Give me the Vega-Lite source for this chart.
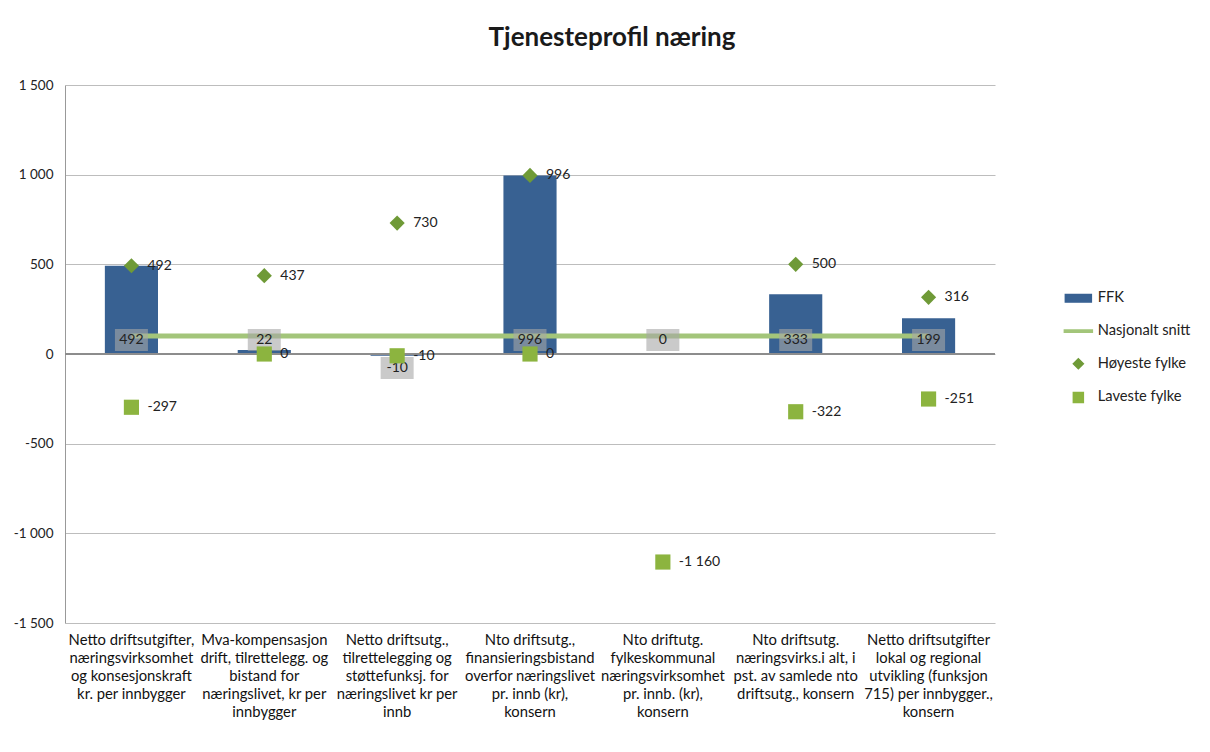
{
  "$schema": "https://vega.github.io/schema/vega-lite/v6.json",
  "width": 930,
  "height": 538,
  "autosize": "none",
  "padding": {"left": 65, "top": 85, "right": 215, "bottom": 129},
  "background": "white",
  "title": {"text": "Tjenesteprofil næring", "fontSize": 26, "fontWeight": "bold", "font": "Lato", "anchor": "middle", "dx": 82, "offset": 27, "color": "#1a1a1a"},
  "config": {
    "locale": {"number": {"decimal": ",", "thousands": " ", "grouping": [3], "currency": ["", ""], "minus": "-"}},
    "font": "Lato",
    "view": {"stroke": null}
  },
  "data": {"values": [
    {"kategori": "Netto driftsutgifter,|næringsvirksomhet|og konsesjonskraft|kr. per innbygger", "serie": "FFK", "verdi": 492},
    {"kategori": "Mva-kompensasjon|drift, tilrettelegg. og|bistand for|næringslivet, kr per|innbygger", "serie": "FFK", "verdi": 22},
    {"kategori": "Netto driftsutg.,|tilrettelegging og|støttefunksj. for|næringslivet kr per|innb", "serie": "FFK", "verdi": -10},
    {"kategori": "Nto driftsutg.,|finansieringsbistand|overfor næringslivet|pr. innb (kr),|konsern", "serie": "FFK", "verdi": 996},
    {"kategori": "Nto driftutg.|fylkeskommunal|næringsvirksomhet|pr. innb. (kr),|konsern", "serie": "FFK", "verdi": 0},
    {"kategori": "Nto driftsutg.|næringsvirks.i alt, i|pst. av samlede nto|driftsutg., konsern", "serie": "FFK", "verdi": 333},
    {"kategori": "Netto driftsutgifter|lokal og regional|utvikling (funksjon|715) per innbygger.,|konsern", "serie": "FFK", "verdi": 199},
    {"kategori": "Netto driftsutgifter,|næringsvirksomhet|og konsesjonskraft|kr. per innbygger", "serie": "Nasjonalt snitt", "verdi": 100},
    {"kategori": "Mva-kompensasjon|drift, tilrettelegg. og|bistand for|næringslivet, kr per|innbygger", "serie": "Nasjonalt snitt", "verdi": 100},
    {"kategori": "Netto driftsutg.,|tilrettelegging og|støttefunksj. for|næringslivet kr per|innb", "serie": "Nasjonalt snitt", "verdi": 100},
    {"kategori": "Nto driftsutg.,|finansieringsbistand|overfor næringslivet|pr. innb (kr),|konsern", "serie": "Nasjonalt snitt", "verdi": 100},
    {"kategori": "Nto driftutg.|fylkeskommunal|næringsvirksomhet|pr. innb. (kr),|konsern", "serie": "Nasjonalt snitt", "verdi": 100},
    {"kategori": "Nto driftsutg.|næringsvirks.i alt, i|pst. av samlede nto|driftsutg., konsern", "serie": "Nasjonalt snitt", "verdi": 100},
    {"kategori": "Netto driftsutgifter|lokal og regional|utvikling (funksjon|715) per innbygger.,|konsern", "serie": "Nasjonalt snitt", "verdi": 100},
    {"kategori": "Netto driftsutgifter,|næringsvirksomhet|og konsesjonskraft|kr. per innbygger", "serie": "Høyeste fylke", "verdi": 492},
    {"kategori": "Mva-kompensasjon|drift, tilrettelegg. og|bistand for|næringslivet, kr per|innbygger", "serie": "Høyeste fylke", "verdi": 437},
    {"kategori": "Netto driftsutg.,|tilrettelegging og|støttefunksj. for|næringslivet kr per|innb", "serie": "Høyeste fylke", "verdi": 730},
    {"kategori": "Nto driftsutg.,|finansieringsbistand|overfor næringslivet|pr. innb (kr),|konsern", "serie": "Høyeste fylke", "verdi": 996},
    {"kategori": "Nto driftsutg.|næringsvirks.i alt, i|pst. av samlede nto|driftsutg., konsern", "serie": "Høyeste fylke", "verdi": 500},
    {"kategori": "Netto driftsutgifter|lokal og regional|utvikling (funksjon|715) per innbygger.,|konsern", "serie": "Høyeste fylke", "verdi": 316},
    {"kategori": "Netto driftsutgifter,|næringsvirksomhet|og konsesjonskraft|kr. per innbygger", "serie": "Laveste fylke", "verdi": -297},
    {"kategori": "Mva-kompensasjon|drift, tilrettelegg. og|bistand for|næringslivet, kr per|innbygger", "serie": "Laveste fylke", "verdi": 0},
    {"kategori": "Netto driftsutg.,|tilrettelegging og|støttefunksj. for|næringslivet kr per|innb", "serie": "Laveste fylke", "verdi": -10},
    {"kategori": "Nto driftsutg.,|finansieringsbistand|overfor næringslivet|pr. innb (kr),|konsern", "serie": "Laveste fylke", "verdi": 0},
    {"kategori": "Nto driftutg.|fylkeskommunal|næringsvirksomhet|pr. innb. (kr),|konsern", "serie": "Laveste fylke", "verdi": -1160},
    {"kategori": "Nto driftsutg.|næringsvirks.i alt, i|pst. av samlede nto|driftsutg., konsern", "serie": "Laveste fylke", "verdi": -322},
    {"kategori": "Netto driftsutgifter|lokal og regional|utvikling (funksjon|715) per innbygger.,|konsern", "serie": "Laveste fylke", "verdi": -251}
  ]},
  "encoding": {
    "x": {
      "field": "kategori", "type": "nominal", "sort": null, "title": null,
      "scale": {"paddingInner": 0.6, "paddingOuter": 0.3},
      "axis": {"labelAngle": 0, "labelExpr": "split(datum.label, '|')", "labelFontSize": 14.8, "labelLineHeight": 18, "labelPadding": 9, "labelLimit": 0, "labelOverlap": false, "labelColor": "#111", "labelBaseline": "top", "ticks": false, "domain": false, "grid": false}
    },
    "y": {
      "field": "verdi", "type": "quantitative", "title": null,
      "scale": {"domain": [-1500, 1500], "nice": false, "zero": false},
      "axis": {"values": [-1500, -1000, -500, 0, 500, 1000, 1500], "format": ",d", "labelFontSize": 13.5, "labelColor": "#222", "labelPadding": 12, "ticks": false, "domain": true, "domainColor": "#999", "gridColor": "#bdbdbd", "grid": true}
    }
  },
  "layer": [
    {
      "transform": [{"filter": "datum.serie === 'FFK'"}],
      "mark": {"type": "bar"},
      "encoding": {
        "color": {"field": "serie", "type": "nominal", "title": null,
          "scale": {"domain": ["FFK", "Nasjonalt snitt", "Høyeste fylke", "Laveste fylke"], "range": ["#386192", "#a3c57a", "#6f9a37", "#8cb43f"]},
          "legend": {"orient": "none", "legendX": 1006, "legendY": 206, "labelFontSize": 14.7, "labelColor": "#222", "rowPadding": 16.7, "labelOffset": 12, "symbolSize": 100, "padding": 0,
            "encode": {"symbols": {"update": {"fill": {"scale": "color", "field": "value"}, "stroke": {"value": "transparent"}, "opacity": {"value": 1}}}}}
        }
      }
    },
    {
      "mark": {"type": "rule", "color": "#8c8c8c", "strokeWidth": 1},
      "encoding": {"y": {"datum": 0}, "x": null}
    },
    {
      "transform": [{"filter": "datum.serie === 'Nasjonalt snitt'"}],
      "mark": {"type": "line", "strokeWidth": 5},
      "encoding": {"color": {"field": "serie", "type": "nominal"}}
    },
    {
      "transform": [{"filter": "datum.serie === 'FFK' && datum.verdi >= 0"}],
      "mark": {"type": "point", "shape": "M-1.65,-1.1H1.65V1.1H-1.65Z", "filled": true, "size": 400, "color": "#a6a6a6", "opacity": 0.6, "yOffset": -14},
      "encoding": {"y": {"datum": 0}}
    },
    {
      "transform": [{"filter": "datum.serie === 'FFK' && datum.verdi < 0"}],
      "mark": {"type": "point", "shape": "M-1.65,-1.1H1.65V1.1H-1.65Z", "filled": true, "size": 400, "color": "#a6a6a6", "opacity": 0.6, "yOffset": 14},
      "encoding": {"y": {"datum": 0}}
    },
    {
      "transform": [{"filter": "datum.serie === 'FFK' && datum.verdi >= 0"}],
      "mark": {"type": "text", "fontSize": 14, "color": "#222", "baseline": "middle", "yOffset": -14},
      "encoding": {"y": {"datum": 0}, "text": {"field": "verdi", "type": "quantitative", "format": ",d"}}
    },
    {
      "transform": [{"filter": "datum.serie === 'FFK' && datum.verdi < 0"}],
      "mark": {"type": "text", "fontSize": 14, "color": "#222", "baseline": "middle", "yOffset": 14},
      "encoding": {"y": {"datum": 0}, "text": {"field": "verdi", "type": "quantitative", "format": ",d"}}
    },
    {
      "transform": [{"filter": "datum.serie === 'Høyeste fylke' || datum.serie === 'Laveste fylke'"}],
      "mark": {"type": "point", "filled": true, "opacity": 1, "size": 230},
      "encoding": {
        "color": {"field": "serie", "type": "nominal"},
        "shape": {"field": "serie", "type": "nominal", "title": null,
          "scale": {"domain": ["FFK", "Nasjonalt snitt", "Høyeste fylke", "Laveste fylke"], "range": ["M-2.6,-0.75H2.6V0.75H-2.6Z", "M-2.8,-0.22H2.8V0.22H-2.8Z", "diamond", "square"]}
        }
      }
    },
    {
      "transform": [{"filter": "datum.serie === 'Høyeste fylke' || datum.serie === 'Laveste fylke'"}],
      "mark": {"type": "text", "fontSize": 14, "color": "#222", "align": "left", "baseline": "middle", "dx": 16},
      "encoding": {"text": {"field": "verdi", "type": "quantitative", "format": ",d"}}
    }
  ]
}
